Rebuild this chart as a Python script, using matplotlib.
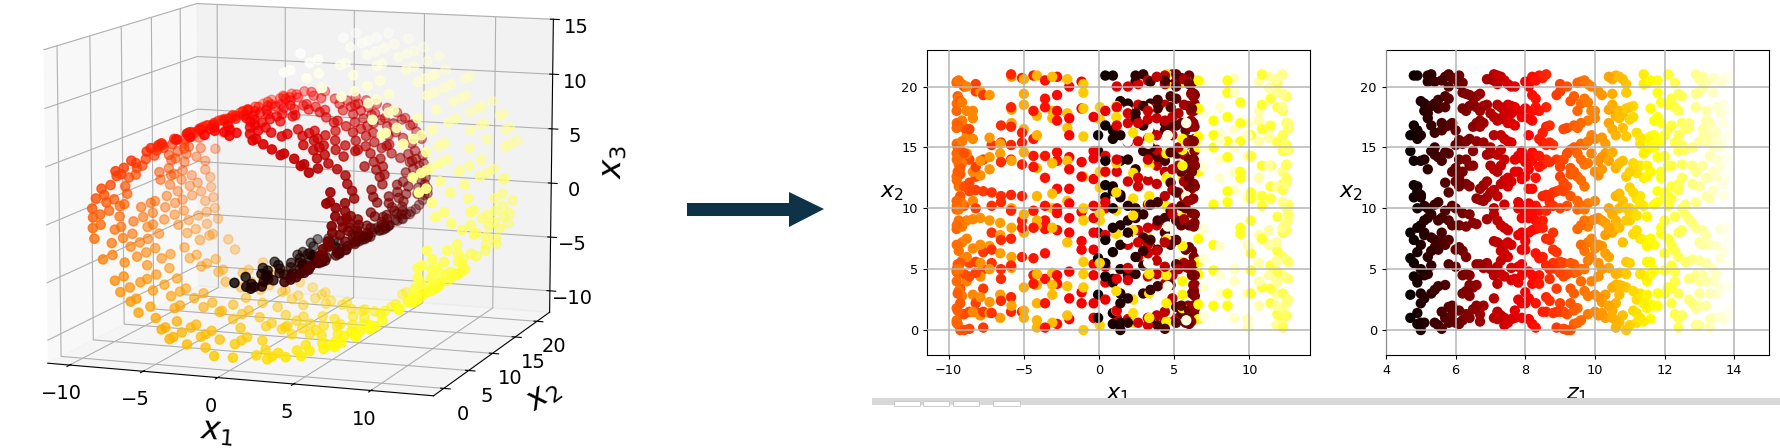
import numpy as np
import matplotlib
matplotlib.use("Agg")
import matplotlib.pyplot as plt
from matplotlib.patches import Polygon, Rectangle
from matplotlib.transforms import IdentityTransform

W, H = 1780, 448

roll_t = [4.7,4.8,4.9,5.0,5.1,5.2,5.3,5.4,5.5,5.6,5.7,5.8,5.9,6.0,6.1,6.2,6.3,6.4,6.5,6.6,6.7,6.8,6.9,7.0,7.1,7.2,7.3,7.4,7.5,7.6,7.7,7.8,7.9,8.0,8.1,8.2,8.3,8.4,8.5,8.6,8.7,8.8,8.9,9.0,9.1,9.2,9.3,9.4,9.5,9.6,9.7,9.8,9.9,10.0,10.1,10.2,10.3,10.4,10.5,10.6,10.7,10.8,10.9,11.0,11.1,11.2,11.3,11.4,11.5,11.6,11.7,11.8,11.9,12.0,12.1,12.2,12.3,12.4,12.5,12.6,12.7,12.8,12.9,13.0,13.1,13.2,13.3,13.4,13.5,13.6,13.7,13.8,13.9,14.0]
roll_x1 = [-0.06,0.42,0.92,1.42,1.92,2.43,2.94,3.42,3.90,4.38,4.76,5.13,5.47,5.76,5.99,6.18,6.30,6.37,6.35,6.27,6.13,5.92,5.65,5.28,4.88,4.38,3.84,3.25,2.60,1.92,1.18,0.42,-0.36,-1.16,-1.98,-2.79,-3.59,-4.36,-5.12,-5.85,-6.52,-7.14,-7.70,-8.20,-8.62,-8.97,-9.23,-9.40,-9.47,-9.46,-9.33,-9.11,-8.80,-8.39,-7.89,-7.28,-6.57,-5.82,-5.00,-4.13,-3.11,-2.11,-1.04,0.05,1.15,2.27,3.34,4.48,5.55,6.61,7.61,8.54,9.40,10.1,10.83,11.41,11.86,12.22,12.48,12.60,12.58,12.44,12.20,11.80,11.30,10.64,9.88,9.00,8.03,6.95,5.80,4.57,3.27,1.90]
roll_x3 = [-4.70,-4.78,-4.81,-4.79,-4.72,-4.60,-4.41,-4.18,-3.88,-3.55,-3.14,-2.68,-2.19,-1.68,-1.11,-0.52,0.10,0.75,1.40,2.05,2.71,3.35,3.96,4.60,5.16,5.72,6.21,6.65,7.04,7.36,7.61,7.79,7.89,7.91,7.86,7.71,7.49,7.18,6.78,6.31,5.77,5.15,4.46,3.71,2.90,2.05,1.16,0.24,-0.71,-1.68,-2.66,-3.59,-4.53,-5.44,-6.31,-7.14,-7.93,-8.61,-9.24,-9.76,-10.24,-10.59,-10.85,-11.0,-11.04,-10.97,-10.79,-10.49,-10.07,-9.53,-8.89,-8.14,-7.30,-6.44,-5.39,-4.35,-3.23,-2.06,-0.83,0.43,1.69,2.96,4.22,5.46,6.64,7.82,8.91,9.93,10.86,11.69,12.41,13.03,13.51,13.87]
x2_rows = [
[8.0,5.9,2.9,1.0,16.0,14.7],
[20.9,16.8,13.9,11.9,10.9,7.4,5.5,4.4],
[20.9,16.4,15.7,11.8,11.4,10.0,8.4,6.4,3.9,1.4,0.5,4.2],
[18.8,16.0,13.9,11.1,10.9,8.6,7.0,0.0,3.0,2.2,0.6,5.0],
[18.6,18.0,14.0,10.2,8.0,9.0,4.5,2.6,0.6,7.8],
[20.9,20.4,17.8,17.4,13.2,10.0,9.2,6.0,4.6],
[21.0,18.4,16.8,14.7,9.5,7.6,6.5,5.3,3.0],
[20.4,18.6,16.2,15.0,14.4,10.3,7.4,6.8,3.3,0.6],
[18.9,18.2,14.2,10.5,9.0,6.6,3.6,0.4],
[20.5,17.0,16.4,13.9,9.2,8.0,7.3,1.5,0.1],
[20.8,19.2,18.3,16.7,14.6,12.1,9.8,7.0,3.7,1.0],
[21.0,20.0,19.0,16.8,14.5,11.3,9.0,7.4,5.4,1.9,0.6],
[20.7,17.0,13.0,10.2,8.6,2.0,1.3],
[20.6,16.4,15.2,13.3,12.2,10.0,6.6,5.2,0.6],
[20.9,20.2,15.6,14.0,12.5,11.8,8.6,6.8,1.6,0.5],
[20.3,19.5,18.2,15.3,13.0,9.6,6.5,4.5,3.0,0.8],
[19.4,18.0,15.5,14.0,12.0,8.5,6.0,4.6,3.2,1.3],
[19.3,18.4,15.7,13.5,11.8,9.5,4.5,3.7,2.8,1.0],
[18.6,16.7,14.7,13.5,8.8,3.5,1.7],
[19.2,18.3,17.0,15.5,10.8,8.7,5.4,3.7,2.0],
[19.4,18.0,17.2,16.7,11.6,10.7,5.4,1.3,0.7],
[18.4,17.0,15.4,11.9,10.6,5.1,2.0],
[20.6,18.5,14.4,12.2,10.9,9.1,5.5],
[20.6,17.8,15.0,14.5,13.5,11.3,5.0],
[21.0,20.5,17.5,16.0,13.2,11.5,10.0,9.5,7.3,4.5,2.6,1.0],
[20.9,20.2,18.5,17.2,14.4,13.0,11.0,9.0,7.2,5.2,3.8,1.5,0.9],
[20.8,18.3,17.4,16.0,14.8,13.5,12.0,8.6,6.5,5.7,4.6,1.2],
[20.5,18.0,17.3,15.7,14.0,12.3,10.3,8.4,7.0,6.3,4.4,1.0,0.4],
[20.2,18.5,17.0,15.5,12.5,11.8,8.2,7.2,6.0,0.6],
[20.0,18.4,17.8,17.0,15.4,12.2,7.0,5.1,4.1,0.9],
[20.0,18.3,16.8,14.0,13.0,4.2,1.6,1.0],
[18.0,14.3,13.0,10.5,10.0,7.8,5.2,3.9,2.5],
[17.5,14.7,14.1,12.4,10.2,9.2,8.0,6.6,5.4,4.5,2.2,1.0],
[20.4,18.2,13.8,12.6,9.7,7.3,6.6,3.1,2.2],
[20.0,17.4,16.0,14.2,13.2,11.6,10.4,9.2,8.0,4.8,2.6,0.9],
[20.8,19.3,18.0,17.2,14.6,13.9,11.6,10.0,9.6,8.2,4.5,3.8,0.5],
[20.5,19.0,18.3,14.3,12.5,10.2,9.0,8.3,6.3,4.2,2.2,0.2],
[20.9,18.0,15.7,14.3,13.4,9.8,8.4,5.9,4.5,3.8],
[20.7,16.2,15.4,13.6,11.0,9.0,8.4,6.0,1.5],
[21.0,18.3,16.7,15.2,14.0,11.1,9.8,7.5,5.3,2.7,1.5],
[16.8,15.4,13.8,11.0,10.5,7.4,5.0,2.4,4.2],
[15.2,11.3,10.2,8.0,6.6,5.5,1.4],
[19.3,14.0,11.4,6.4,5.0,3.4,0.2,1.5],
[20.2,19.6,13.4,12.6,11.5,10.0,5.6,4.7,2.2,1.5],
[16.5,14.0,12.1,11.4,5.5,4.4,1.5,0.1],
[20.0,16.6,14.5,11.8,10.2,4.6,1.3,0.0],
[18.8,14.8,13.3,12.8,11.0,5.5,3.4,2.2,0.0],
[19.2,16.8,15.0,13.0,5.4,4.7,3.0,1.6,0.5],
[20.3,18.0,16.6,14.5,12.6,10.6,9.9,8.3,4.8,1.8,0.6],
[20.4,18.6,17.0,15.3,14.0,12.3,10.2,8.6,7.0,5.0,4.0,0.8],
[20.5,19.0,15.2,13.6,11.8,9.9,9.0,6.5,5.0,3.2],
[20.2,18.7,17.2,15.5,13.7,10.4,8.5,7.2,5.7,2.8,1.3],
[20.0,18.0,16.0,14.5,9.0,7.5,6.0,4.0],
[18.0,17.4,15.7,13.0,10.6,9.1,6.7,2.9,1.5],
[19.6,13.9,12.7,9.2,7.0,5.5,4.4,2.7,1.2],
[19.3,15.8,14.2,13.2,9.0,6.9,5.0,2.3,1.4],
[15.3,14.5,8.8,7.8,6.3,2.9,1.0],
[20.8,18.1,17.0,13.9,10.0,8.4,6.0,5.1,2.0],
[20.6,19.4,18.5,16.5,14.6,9.5,8.0,3.5,1.6,1.0],
[20.9,17.6,16.0,13.3,11.0,9.0,8.6,4.6,3.7,2.2,0.8,0.2],
[20.8,18.0,17.4,13.7,11.2,10.0,8.4,4.7,3.7,2.9,0.6],
[20.6,17.8,16.6,13.9,10.6,7.2,3.6,1.2],
[20.2,19.5,18.2,15.9,12.6,10.0,9.0,5.6,4.6,3.5,0.0],
[18.3,17.3,13.0,11.7,10.0,9.6,9.0,5.5,0.4],
[18.4,17.5,13.7,11.3,9.8,7.9,3.2,1.6],
[16.2,12.9,10.8,9.4,8.2,2.5,1.4,0.6],
[15.8,15.3,13.5,11.0,10.4,7.5,4.6,3.0,1.0],
[21.0,20.2,14.5,12.5,10.2,7.4,4.5,2.2,0.7],
[20.3,15.7,14.8,13.5,12.6,9.3,6.9,5.6,4.0,2.9,1.8],
[20.5,18.2,15.9,15.0,13.0,7.5,5.6,4.6,2.1,0.9],
[17.2,16.0,15.0,10.3,7.0,4.9,2.0],
[20.5,19.5,17.5,15.5,14.2,11.4,10.5,3.0,2.0],
[18.7,17.0,15.5,13.0,12.5,8.4,7.9],
[16.0,14.3,11.3,10.8,9.0,6.3,4.9,3.0],
[21.0,18.5,16.5,13.5,11.0,10.2,7.5,3.5],
[19.0,16.8,13.5,11.8,10.8,7.0,5.3,3.4,2.2],
[20.3,18.3,15.4,9.3,6.5,4.8,4.0,1.3],
[19.4,18.0,16.0,14.7,12.0,11.5,8.0,6.0,3.0,1.0,0.2],
[19.2,17.0,15.2,13.6,12.5,10.0,8.2,1.2],
[16.5,14.8,10.3,9.5,5.6],
[17.0,16.6,9.1,4.2,2.5],
[15.0,13.5,12.0,8.8,5.8,2.2],
[21.0,19.4,18.3,13.0,10.5,8.4,4.5,1.8,0.4],
[20.6,19.6,15.5,11.8,7.2,5.7,4.0,3.0,2.0,0.4],
[20.8,19.9,16.5,15.8,13.5,8.2,7.0,4.5],
[20.4,18.0,17.2,15.5,12.5,11.0,7.8,5.5,4.0,2.0],
[17.0,16.0,14.3,10.8,7.0,3.0,0.9,0.2],
[20.7,19.5,16.5,15.0,13.0,11.5,5.0,4.0,1.0],
[18.3,16.2,15.5,14.0,12.5,6.9,4.5,3.0],
[20.3,17.8,15.0,13.4,8.3,5.9,3.5,1.1],
[20.5,18.5,17.0,15.3,12.0,11.0,6.5,0.8],
[20.9,18.0,16.0,14.2,12.6,8.5,7.5,3.6,1.4],
[20.6,18.2,16.5,15.3,13.0,7.0,5.5,2.0,1.0],
[18.0,15.5,7.5],
]

t = np.array([roll_t[i] for i, row in enumerate(x2_rows) for _ in row])
x1 = np.array([roll_x1[i] for i, row in enumerate(x2_rows) for _ in row])
x3 = np.array([roll_x3[i] for i, row in enumerate(x2_rows) for _ in row])
x2 = np.array([v for row in x2_rows for v in row])
order = np.argsort((np.arange(t.size) * 0.6180339887) % 1.0)   # draw order only
t, x1, x2, x3 = t[order], x1[order], x2[order], x3[order]

fig = plt.figure(figsize=(W / 100, H / 100), dpi=100, facecolor="white")

def px_axes(l, r, top, bot, **kw):
    return fig.add_axes([l / W, 1 - bot / H, (r - l) / W, (bot - top) / H], **kw)

# 3D panel
ax3 = px_axes(-151, 749, -114, 504, projection="3d")
ax3.patch.set_alpha(0)
ax3.set_box_aspect((4, 4, 3.12))
ax3.scatter(x1, x2, x3, c=t, cmap="hot", s=44)
ax3.view_init(10, -70)
ax3.set_xlim(-11.5, 14)
ax3.set_ylim(-2, 23)
ax3.set_zlim(-12, 15)
ax3.set_xticks([-10, -5, 0, 5, 10])
ax3.set_yticks([0, 5, 10, 15, 20])
ax3.set_zticks([-10, -5, 0, 5, 10, 15])
ax3.tick_params(labelsize=14, pad=3)
ax3.set_xlabel("$x_1$", fontsize=23, labelpad=9)
ax3.set_ylabel("$x_2$", fontsize=23, labelpad=9)
ax3.set_zlabel("$x_3$", fontsize=23, labelpad=10)

# flat panels
def flat(ax, xs, xlabel, xlim):
    ax.scatter(xs, x2, c=t, cmap="hot", s=56, linewidths=0)
    ax.set_xlim(*xlim)
    ax.set_ylim(-2.05, 23)
    ax.set_yticks([0, 5, 10, 15, 20])
    ax.grid(True, color="#b5b5b5", lw=1.1)
    ax.set_axisbelow(False)
    ax.tick_params(labelsize=9.3, length=3)
    ax.set_xlabel(xlabel, fontsize=16, labelpad=6)
    ax.set_ylabel("$x_2$", fontsize=16, rotation=0, labelpad=7)

ax_a = px_axes(927, 1310, 50, 355)
flat(ax_a, x1, "$x_1$", (-11.44, 14.03))
ax_a.set_xticks([-10, -5, 0, 5, 10])
ax_b = px_axes(1386, 1769, 50, 355)
flat(ax_b, t, "$z_1$", (4, 15))
ax_b.set_xticks([4, 6, 8, 10, 12, 14])

# arrow
def P(pts):
    return [(x, H - y) for x, y in pts]
fig.add_artist(Polygon(P([(687, 203), (789, 203), (789, 192), (824, 209), (789, 227), (789, 216), (687, 216)]),
                       closed=True, fc="#0e3349", ec="none", transform=IdentityTransform(), zorder=4))

# clipped toolbar strip
def R(l, r, top, bot, **kw):
    fig.add_artist(Rectangle((l, H - bot), r - l, bot - top, transform=IdentityTransform(), **kw))
R(872, W, 398, 405, fc="#d8d8d8", ec="none", zorder=5)
R(860, W, 405, H, fc="white", ec="none", zorder=5)
for a, b in [(894, 920), (923, 949), (953, 979), (993, 1020)]:
    R(a, b, 401, 406, fc="white", ec="#bbbbbb", lw=0.5, zorder=6)

fig.savefig("out.png", dpi=100)
